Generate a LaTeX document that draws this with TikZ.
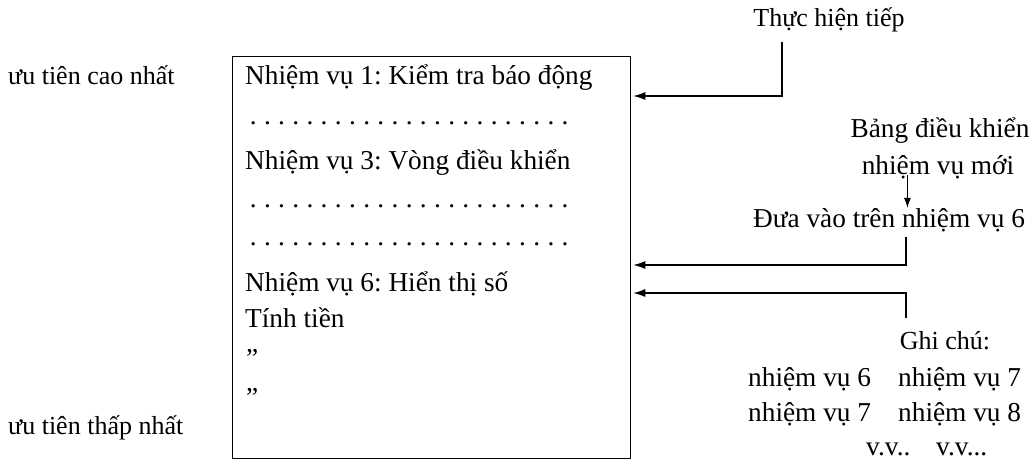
\documentclass[tikz,border=0pt]{standalone}
\usepackage{fontspec}
\setmainfont{Liberation Serif}
\usetikzlibrary{arrows.meta,calc}
\frenchspacing
\newcommand{\dotrow}{\hbox to 326pt{\xleaders\hbox to 14.17pt{\hss.\hss}\hfill}}
\tikzset{
  lbl/.style={inner sep=0pt, anchor=base west, font=\fontsize{26}{30}\selectfont},
  txt/.style={inner sep=0pt, anchor=base west, font=\fontsize{27.3}{31}\selectfont},
  ctxt/.style={inner sep=0pt, anchor=base, font=\fontsize{27.3}{31}\selectfont},
  arr/.style={line width=1.1pt, -{Latex[length=12pt,width=8pt]}},
  frame/.style={draw, line width=1.3pt, inner sep=0pt, anchor=north west}
}
\begin{document}
\begin{tikzpicture}[x=1pt,y=-1pt]
\useasboundingbox (0,0) rectangle (1035,463);
\node[frame, minimum width=398pt, minimum height=402pt] (box) at (232,56) {};
\node[lbl] (hi) at (8,84) {ưu tiên cao nhất};
\node[lbl] (lo) at (8,434) {ưu tiên thấp nhất};
\node[txt] (t1) at (245,84) {Nhiệm vụ 1: Kiểm tra báo động};
\node[txt] (d1) at (246,124) {\dotrow};
\node[txt] (t3) at (245,169) {Nhiệm vụ 3: Vòng điều khiển};
\node[txt] (d2) at (246,207) {\dotrow};
\node[txt] (d3) at (246,245) {\dotrow};
\node[txt] (t6) at (245,291) {Nhiệm vụ 6: Hiển thị số};
\node[txt] (tt) at (245,327) {Tính tiền};
\node[txt] (q1) at (246,367) {”};
\node[txt] (q2) at (246,406) {”};
\node[lbl, anchor=base] (next) at (829,27) {Thực hiện tiếp};
\node[ctxt] (bang) at (940,137) {Bảng điều khiển};
\node[ctxt] (moi) at (938,174) {nhiệm vụ mới};
\node[ctxt] (dua) at (889,227) {Đưa vào trên nhiệm vụ 6};
\node[lbl, anchor=base] (ghi) at (945,349) {Ghi chú:};
\node[txt] (a1) at (748,386) {nhiệm vụ 6};
\node[txt] (b1) at (898,386) {nhiệm vụ 7};
\node[txt] (a2) at (748,421) {nhiệm vụ 7};
\node[txt] (b2) at (898,421) {nhiệm vụ 8};
\node[txt] (a3) at (866,455) {v.v..};
\node[txt] (b3) at (936,455) {v.v...};
\coordinate (c1) at (782,42);
\coordinate (c2) at (906,237);
\coordinate (c3) at (906,318);
\coordinate (e1) at (box.east |- 0,96);
\coordinate (e2) at (box.east |- 0,265);
\coordinate (e3) at (box.east |- 0,293);
\draw[arr] (c1) |- ([xshift=2pt]e1);
\draw[arr] (c2) |- ([xshift=2pt]e2);
\draw[arr] (c3) |- ([xshift=2pt]e3);
\draw[arr, line width=0.8pt, -{Latex[length=10pt,width=7pt]}] ([yshift=-8pt]$(moi.west)!0.3!(moi.east)$) -- ++(0,33);
\end{tikzpicture}
\end{document}
